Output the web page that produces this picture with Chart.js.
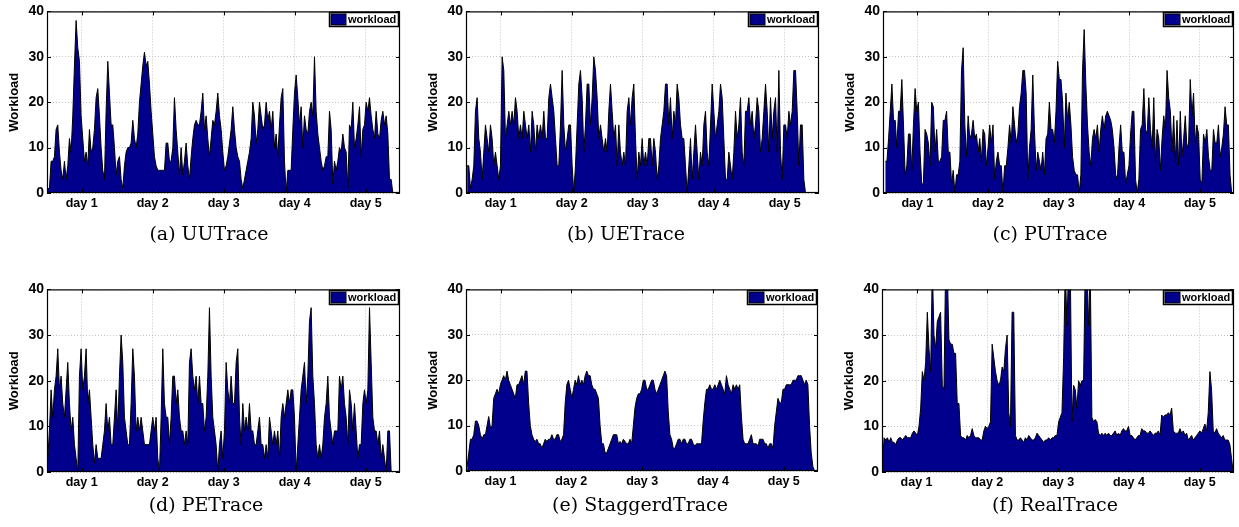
<!DOCTYPE html>
<html>
<head>
<meta charset="utf-8">
<script src="https://cdn.jsdelivr.net/npm/chart.js@4.4.1/dist/chart.umd.min.js"></script>
<style>
  html, body { margin:0; padding:0; background:#fff; }
  #page { position:relative; width:1239px; height:527px; overflow:hidden; background:#fff; }
  #page canvas { position:absolute; }
  .cap { position:absolute; font-family:'DejaVu Serif', serif; font-size:19px; color:#000;
         white-space:nowrap; transform:translate(-50%,-50%); }
</style>
</head>
<body>
<div id="page"></div>
<script>
// ═══════════════════════════════════════════════════════════════════
// DATA — workload traces (one sample every ~34 min)
// ═══════════════════════════════════════════════════════════════════

const STEP_H     = 24 / 42.6;                 // hours between samples
const DAY_TICKS  = [12, 36, 60, 84, 108];     // hour at the middle of each day
const DAY_LABELS = ['day 1', 'day 2', 'day 3', 'day 4', 'day 5'];
const Y_TICKS    = [0, 10, 20, 30, 40];

const uuTrace = [1,1,7,7,8,14,15,9,5,3,7,3,6,12,9,17,28,38,32,29,17,12,7,9,6,14,9,10,14,21,23,17,10,5,3,18,29,22,15,15,10,4,7,8,3,1,6,9,10,10,11,16,12,10,13,20,24,28,31,28,29,24,18,13,8,6,5,5,5,5,5,11,11,7,7,10,21,14,9,4,10,4,7,11,6,3,8,12,15,16,15,15,18,22,14,17,12,8,12,16,15,18,22,17,14,9,5,6,8,11,14,19,14,10,8,7,3,1,3,5,7,9,12,20,17,11,14,20,17,14,15,20,16,18,14,18,10,13,8,15,21,23,7,0,5,5,5,14,22,26,21,15,19,10,17,14,13,18,20,17,30,18,13,10,7,5,6,8,8,18,14,2,7,5,7,10,9,13,10,9,1,15,14,20,10,12,15,19,8,14,15,20,18,21,17,14,12,18,13,12,16,18,15,17,13,3,3,0];

const ueTrace = [6,6,1,3,6,18,21,12,9,3,9,15,12,9,15,12,6,9,6,3,6,30,27,12,15,18,15,18,15,21,18,12,15,12,18,15,12,15,9,18,15,9,15,12,15,12,18,12,12,21,24,21,18,12,6,6,15,27,15,9,12,15,15,6,0,6,15,24,27,21,9,15,24,24,15,21,30,27,21,12,15,12,9,12,9,18,24,18,12,15,6,15,9,6,9,6,18,21,15,21,24,12,3,9,6,12,6,9,6,12,12,6,12,9,3,6,12,15,18,24,24,15,21,12,18,15,24,21,15,12,12,6,0,6,12,3,9,15,9,3,9,6,15,18,9,6,15,24,18,12,15,18,24,21,12,3,3,9,6,3,9,18,12,15,21,9,6,18,18,21,15,18,12,15,21,18,9,12,18,24,18,9,21,12,18,21,9,27,9,3,15,15,12,18,15,18,27,27,18,6,15,15,3,0];

const puTrace = [7,7,12,18,24,16,16,10,18,18,25,15,4,6,13,13,5,15,23,18,20,9,2,2,14,13,11,6,20,19,9,14,7,7,8,16,16,18,9,9,2,5,0,4,4,7,27,32,15,8,17,12,13,16,12,13,9,12,7,14,13,6,10,15,11,15,3,7,9,6,6,0,6,6,10,15,11,19,15,11,13,19,22,27,27,22,3,10,14,26,14,5,9,7,5,9,4,12,13,20,14,14,11,18,29,25,25,20,10,22,16,20,15,8,5,4,4,0,4,27,36,24,15,9,6,12,14,12,15,9,14,17,14,17,18,17,16,14,10,4,3,10,15,9,9,2,4,6,13,18,18,3,0,3,14,15,23,14,13,21,14,10,21,7,14,12,5,12,17,14,27,21,18,9,17,7,16,6,18,8,12,17,10,11,25,17,22,11,15,13,3,2,13,11,14,8,5,5,14,11,11,15,8,10,13,19,15,15,4,0];

const peTrace = [3,9,18,12,18,21,27,18,21,15,12,18,24,15,9,12,6,3,0,21,27,18,21,27,15,18,12,6,2,6,3,3,3,6,9,15,9,12,6,6,12,18,9,21,30,24,12,9,6,6,15,27,21,9,12,9,12,9,6,6,6,6,9,12,9,12,3,0,12,27,15,12,12,6,12,21,21,15,18,12,9,9,6,9,6,24,27,21,18,21,15,21,15,15,9,12,21,36,21,12,9,6,0,6,9,3,9,24,18,15,21,15,15,24,27,12,6,15,9,12,9,15,9,9,6,6,9,12,6,6,3,6,3,12,9,6,9,6,9,3,12,15,12,15,18,15,18,18,12,0,6,12,18,21,24,15,21,33,36,21,15,6,3,6,3,6,12,15,21,12,9,6,9,9,9,21,18,21,15,12,6,18,15,9,15,9,3,6,6,15,18,15,18,36,24,12,9,9,6,9,3,6,3,0,9,9,0,0,0,0,0];

const staggerdTrace = [1,4,7,7,8,11,11,10,8,7,8,8,10,12,9.5,10,16,17,18,17,19,20,21,20,22,20,19,18,17,16,19,19,20,21,19,22,22,15,10,8,7,6.5,7,6,6,5,6,7,6.5,7,7,8,7,7,8,8,6.5,7,8,15,19,20,18,16,18,20,19,21,19,20,19,21,22,21,21,19,18,18,17,16,10,6,6,4,4,5,6,7,8,8,8,6,6.5,6,7,6.5,6,6,7,6,10,14,16,17,17,18,20,20,18,18,19,20,20,18,17,18,19,20,21,22,21,13,8,7,5,5,6,7,7,6,7,7,6,6,7,7,6,5.5,6,6,6,6,11,15,18,18,19,18,18,19,18,19,20,19,18,17,21,19,18,17,19,18,19,18,19,12,7,6,6,6,7,8,6,6,6,5.5,7,7,7,6,6,5,6,6,5,10,13,16,15,15,18,18,19,19,19,19,20,20,20,21,21,21,20,19,20,19,10,4,1,0];

// peaks above 40 run off the top of the axes in the figure
const realTrace = [2,7.5,7,7.5,6.5,7.5,6.5,6.5,6,7,7.5,7.5,7,7.5,8,7.5,7.5,7.5,8.5,9,8.5,8,10,14,22,20,24,35,27,22,45,30,27,33,34,35,19,18,45,45,29,28,28,26,26,15,15,8,7.5,7.5,7,8,7.5,8,9.5,8,7.5,7.5,7.5,7,7,9,10,9.5,10,11,28,25,22,20,19,20,23,22,27,30,13,10,35,35,8,7,7,7.5,7,6.5,7.5,7,8,7.5,7,7,7.5,8.5,8,7.5,7,6.5,7,7,7.5,7,7.5,7.5,8,8,11,12,13,25,45,32,45,45,11,19,18,14,20,19,20,20,45,45,32,45,12,11,11.5,11,8.5,8,8.5,8,8.5,8,8.5,8,8,8.5,9,8,8.5,8,9,9.5,9,9,10,8,8,7.5,7,7.5,8,8,9.5,9,9,8.5,8.5,9,8.5,8,8.5,8.5,9,8,12.5,12,12.5,12.5,13,12.5,14,9,8.5,8.5,8.5,9.5,8.5,9,8,8.5,7,7.5,8,7,7.5,8,8.5,9,8.5,9.5,10.5,9,13,22,18,9,8.5,9.5,8.5,8,7.5,8,7,7,7,6,3,0];

const TRACES      = [uuTrace, ueTrace, puTrace, peTrace, staggerdTrace, realTrace];
const TRACE_START = [0.56, 0.68, 1.07, 0.56, 0.68, 0.45];   // hour of first sample
const CAPTIONS    = ['(a)  UUTrace', '(b)  UETrace', '(c)  PUTrace', '(d)  PETrace', '(e)  StaggerdTrace', '(f)  RealTrace'];
const SERIES_NAME = 'workload';

// ─── Layout ───────────────────────────────────────────────────────────────────
const PLOT_BOX = [
  {l:47,  t:9,   r:400,  b:193},
  {l:466, t:9,   r:819,  b:193},
  {l:883, t:9,   r:1234, b:193},
  {l:47,  t:287, r:400,  b:472},
  {l:466, t:287, r:818,  b:471},
  {l:882, t:287, r:1234, b:472},
];
const CAPTION_POS = [[209,233],[626,233],[1050,233],[206,504],[640,504],[1055,504]];

const X_MIN = 0.3, X_MAX = 119.6;
const Y_AXIS_W = 47, X_AXIS_H = 22, PAD_T = 9, PAD_R = 5, PAD_B = 8;
const NAVY = '#00008c';
const GRID = '#c4c4c4';
const SANS = '"Liberation Sans", Arial, sans-serif';

Chart.defaults.font.family = SANS;
Chart.defaults.color = '#000';

// ─── Axes box, inward ticks and boxed legend (MATLAB look) ────────────────────
const framePlugin = {
  id: 'frame',
  afterDraw(chart) {
    const { ctx, chartArea: a, scales } = chart;
    ctx.save();
    ctx.strokeStyle = '#000';
    ctx.lineWidth = 1.2;
    ctx.strokeRect(a.left + 0.5, a.top + 0.5, a.width - 1, a.height - 1);

    const TL = 4;
    ctx.lineWidth = 1;
    ctx.beginPath();
    scales.x.ticks.forEach(t => {
      const px = Math.round(scales.x.getPixelForValue(t.value)) + 0.5;
      ctx.moveTo(px, a.bottom); ctx.lineTo(px, a.bottom - TL);
      ctx.moveTo(px, a.top);    ctx.lineTo(px, a.top + TL);
    });
    scales.y.ticks.forEach(t => {
      const py = Math.round(scales.y.getPixelForValue(t.value)) + 0.5;
      ctx.moveTo(a.left, py);  ctx.lineTo(a.left + TL, py);
      ctx.moveTo(a.right, py); ctx.lineTo(a.right - TL, py);
    });
    ctx.stroke();

    // legend
    const ds = chart.data.datasets[0];
    ctx.font = `bold 11px ${SANS}`;
    const tw = ctx.measureText(ds.label).width;
    const sw = 15, h = 14;
    const w  = Math.round(1.5 + sw + 2 + tw + 2);
    const x  = Math.round(a.right - 2 - w) + 0.5;
    const y  = Math.round(a.top + 1) + 0.5;
    ctx.fillStyle = '#fff';
    ctx.fillRect(x, y, w, h);
    ctx.lineWidth = 1.5;
    ctx.strokeRect(x, y, w, h);
    ctx.fillStyle = ds.backgroundColor;
    ctx.fillRect(x + 1.5, y + 1.5, sw, h - 3);
    ctx.lineWidth = 1;
    ctx.strokeRect(x + 1.5, y + 1.5, sw, h - 3);
    ctx.fillStyle = '#000';
    ctx.textBaseline = 'middle';
    ctx.textAlign = 'left';
    ctx.fillText(ds.label, x + 1.5 + sw + 2, y + h / 2 + 0.5);
    ctx.restore();
  }
};

function toPoints(vals, start) {
  return vals.map((v, i) => ({ x: start + i * STEP_H, y: v }));
}

// ─── Build one panel ──────────────────────────────────────────────────────────
function buildPanel(page, i) {
  const box = PLOT_BOX[i];
  const w = box.r - box.l + Y_AXIS_W + PAD_R;
  const h = box.b - box.t + PAD_T + X_AXIS_H + PAD_B;
  const cv = document.createElement('canvas');
  cv.width = w; cv.height = h;
  cv.style.left   = (box.l - Y_AXIS_W) + 'px';
  cv.style.top    = (box.t - PAD_T) + 'px';
  cv.style.width  = w + 'px';
  cv.style.height = h + 'px';
  page.appendChild(cv);

  new Chart(cv.getContext('2d'), {
    type: 'line',
    data: {
      datasets: [{
        label: SERIES_NAME,
        data: toPoints(TRACES[i], TRACE_START[i]),
        fill: 'origin',
        backgroundColor: NAVY,
        borderColor: '#000',
        borderWidth: 1,
        pointRadius: 0,
        tension: 0,
      }]
    },
    options: {
      responsive: false,
      animation: false,
      events: [],
      layout: { padding: { left:0, top:PAD_T, right:PAD_R, bottom:PAD_B } },
      plugins: { legend: { display:false }, tooltip: { enabled:false } },
      scales: {
        x: {
          type: 'linear', min: X_MIN, max: X_MAX,
          afterFit: s => { s.height = X_AXIS_H; },
          afterBuildTicks: s => { s.ticks = DAY_TICKS.map(v => ({ value: v })); },
          ticks: {
            callback: v => DAY_LABELS[DAY_TICKS.indexOf(v)],
            font: { size: 12.5, weight: 'bold' }, color: '#000',
            padding: 3, maxRotation: 0, autoSkip: false,
          },
          grid:   { color: GRID, drawTicks: false },
          border: { display: false, dash: [1, 2] },
        },
        y: {
          min: 0, max: 40,
          afterFit: s => { s.width = Y_AXIS_W; },
          afterBuildTicks: s => { s.ticks = Y_TICKS.map(v => ({ value: v })); },
          ticks:  { font: { size: 14, weight: 'bold' }, color: '#000', padding: 3 },
          grid:   { color: GRID, drawTicks: false },
          border: { display: false, dash: [1, 2] },
          title:  {
            display: true, text: 'Workload', color: '#000',
            font: { size: 13, weight: 'bold' }, padding: { top: 7, bottom: 0 },
          },
        }
      }
    },
    plugins: [framePlugin]
  });

  const cap = document.createElement('div');
  cap.className = 'cap';
  cap.textContent = CAPTIONS[i];
  cap.style.left = CAPTION_POS[i][0] + 'px';
  cap.style.top  = CAPTION_POS[i][1] + 'px';
  page.appendChild(cap);
}

const page = document.getElementById('page');
TRACES.forEach((_, i) => buildPanel(page, i));
</script>
</body>
</html>
